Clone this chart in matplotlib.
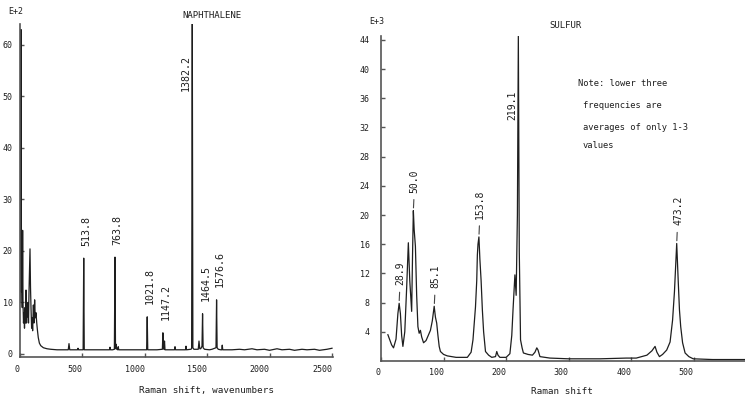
import matplotlib
matplotlib.use("Agg")
import matplotlib.pyplot as plt
import numpy as np

# ---------------- data: naphthalene (E+2 units) ----------------
naph_x = [4, 8, 10, 12, 14, 16, 18, 22, 25, 28, 32, 36, 40, 44, 48, 52, 56, 60, 63, 68,
          72, 76, 79, 84, 88, 92, 97, 101, 105, 111, 116, 121, 126, 132, 138, 143, 150,
          159, 170, 191, 220, 250, 300, 350, 390, 396, 402, 440, 464, 468, 472, 500,
          509, 513.8, 518, 530, 600, 650, 700, 720, 724, 728, 745, 759, 763.8, 768, 772,
          778, 786, 790, 794, 850, 900, 950, 1000, 1017, 1021.8, 1026, 1060, 1100, 1143,
          1147.2, 1152, 1156, 1160, 1164, 1200, 1240, 1244, 1248, 1290, 1328, 1332, 1336,
          1370, 1377, 1382.2, 1387, 1395, 1430, 1436, 1442, 1450, 1460, 1464.5, 1469,
          1480, 1520, 1540, 1572, 1576.6, 1581, 1590, 1610, 1618, 1622, 1626, 1660, 1700,
          1760, 1800, 1860, 1900, 1960, 2000, 2060, 2100, 2160, 2200, 2260, 2300, 2360,
          2400, 2460, 2500]
naph_y = [10, 30, 57, 63, 40, 12, 15, 9, 24, 10, 6, 8, 5, 9, 6, 12.4, 6, 9, 7.2, 10,
          6, 12, 15, 20.4, 13, 9, 5, 7, 4.5, 9.5, 6, 10.5, 7, 8, 6, 4.7, 3.2,
          2.1, 1.6, 1.2, 1.0, 0.9, 0.8, 0.8, 0.8, 2.0, 0.8, 0.8, 0.8, 1.1, 0.8, 0.8,
          0.8, 18.6, 0.8, 0.8, 0.8, 0.8, 0.8, 0.8, 1.3, 0.8, 0.8, 0.9, 18.8, 1.0, 1.9,
          0.9, 0.8, 1.4, 0.8, 0.8, 0.8, 0.8, 0.8, 0.8, 7.2, 0.8, 0.8, 0.8, 0.9,
          4.1, 1.0, 0.9, 2.5, 0.8, 0.8, 0.8, 1.4, 0.8, 0.8, 0.8, 1.5, 0.8,
          0.9, 1.0, 65, 1.2, 0.9, 0.9, 2.5, 1.0, 1.0, 1.5, 7.8, 1.2,
          0.9, 0.8, 0.9, 1.2, 10.5, 1.2, 0.9, 0.8, 0.8, 1.7, 0.8, 0.8, 0.8,
          0.9, 0.8, 1.0, 0.8, 0.9, 0.7, 1.0, 0.8, 0.9, 0.7, 0.9, 0.8, 0.9,
          0.7, 0.9, 1.1]
naph_peaks = [513.8, 763.8, 1021.8, 1147.2, 1464.5, 1576.6]
naph_peak_h = [18.6, 18.8, 7.2, 4.1, 7.8, 10.5]
naph_peak_lbl = ["513.8", "763.8", "1021.8", "1147.2", "1464.5", "1576.6"]
naph_top_peak = 1382.2
naph_top_lbl = "1382.2"
naph_xticks = [0, 500, 1000, 1500, 2000, 2500]
naph_yticks = [0, 10, 20, 30, 40, 50, 60]

# ---------------- data: sulfur (E+3 units) ----------------
sul_x = [11, 17, 20, 24, 27, 29, 31, 33, 35, 38, 41, 43.7, 46, 49, 50.5, 51.7, 53, 55,
         57, 59, 61, 63, 65, 68, 72, 76, 79, 82, 85, 87, 89, 91, 93, 95, 100, 106, 120,
         138, 144, 147, 151, 153, 154, 155, 156.5, 158, 160, 162, 164, 167, 172, 177,
         183, 185, 187, 190, 200, 206, 209, 211, 214, 216, 218, 219.5, 221, 223, 225.5,
         227.6, 235, 242, 246, 249, 251, 254, 270, 300, 350, 392, 408, 425, 433, 438,
         441, 445, 450, 456.6, 462, 466, 469, 472.6, 475, 477, 479, 482, 486, 492, 499,
         530, 600]
sul_y = [3.6, 2.2, 1.8, 3.0, 6.5, 7.9, 6.5, 3.5, 2.0, 4.0, 10, 16.2, 11, 6.8, 15, 20.6, 18, 15.7,
         9, 4.7, 3.8, 4.2, 3.3, 2.5, 2.8, 3.6, 4.2, 5.5, 7.5, 6.0, 5.2, 3.5, 2.0, 1.3, 0.9, 0.7, 0.5,
         0.5, 1.2, 2.9, 7.4, 11, 14.5, 16, 17.0, 14, 11, 7, 4, 1.3, 0.8, 0.5,
         0.6, 1.3, 0.8, 0.5, 0.5, 1.0, 3.5, 7, 11.8, 9, 20, 44.5, 15, 2.9, 1.8,
         1.1, 0.9, 0.8, 1.2, 1.8, 1.5, 0.6, 0.4, 0.3, 0.3, 0.4, 0.4, 0.8, 1.4, 2.0,
         1.2, 0.6, 0.9, 1.5, 2.6, 5.6, 9.5, 16.1, 11, 7, 4.7, 2.5, 1.1, 0.6, 0.3,
         0.2, 0.2]
sul_peaks = [28.9, 51.7, 85.1, 156.5, 472.6]
sul_peak_h = [7.9, 20.6, 7.5, 17.0, 16.1]
sul_peak_lbl = ["28.9", "50.0", "85.1", "153.8", "473.2"]
sul_top_peak = 219.5
sul_top_lbl = "219.1"
sul_xticks = [0, 100, 200, 300, 400, 500]
sul_yticks = [4, 8, 12, 16, 20, 24, 28, 32, 36, 40, 44]

note_lines = ["Note: lower three", "frequencies are", "averages of only 1-3", "values"]

# ---------------- style ----------------
W, H = 745, 401
FONT = "DejaVu Sans Mono"
INK = "#1e1e1e"
SPINE = "#555555"
plt.rcParams["font.family"] = FONT

fig = plt.figure(figsize=(W / 100, H / 100), dpi=100)
fig.patch.set_facecolor("white")


def px_axes(x0, x1, ytop, ybot):
    return fig.add_axes([x0 / W, 1 - ybot / H, (x1 - x0) / W, (ybot - ytop) / H])


def style(ax, ypad, xpad):
    for s in ["top", "right"]:
        ax.spines[s].set_visible(False)
    for s in ["left", "bottom"]:
        ax.spines[s].set_color(SPINE)
        ax.spines[s].set_linewidth(1.2)
    ax.tick_params(axis="both", direction="in", length=3, width=1.0, color=SPINE,
                   labelsize=6, labelcolor=INK)
    ax.tick_params(axis="y", pad=ypad)
    ax.tick_params(axis="x", pad=xpad)
    for lab in ax.get_xticklabels():
        lab.set_horizontalalignment("right")


# ---------------- left panel ----------------
axL = px_axes(19.5, 19.5 + 2510 * 0.125, 24.4, 357)
axL.set_xlim(0, 2510)
axL.set_ylim(-0.6, 64)
axL.plot(naph_x, naph_y, color=INK, lw=0.9, clip_on=True)
axL.set_xticks(naph_xticks)
axL.set_xticklabels([str(t) for t in naph_xticks])
axL.set_yticks(naph_yticks)
axL.set_yticklabels([str(t) for t in naph_yticks])
style(axL, ypad=5.0, xpad=6)
for x, h, lbl in zip(naph_peaks, naph_peak_h, naph_peak_lbl):
    axL.annotate(lbl, xy=(x, h), xytext=(2, 9), textcoords="offset points",
                 rotation=90, ha="center", va="bottom", fontsize=7.2, color=INK)
axL.annotate(naph_top_lbl, xy=(naph_top_peak, 51), xytext=(-5, 0), textcoords="offset points",
             rotation=90, ha="center", va="bottom", fontsize=7.2, color=INK)

# ---------------- right panel ----------------
x0R = 381
axR = px_axes(x0R, x0R + 600 * 0.6257, 36.2, 361)
axR.set_xlim(0, 600)
axR.set_ylim(0, 44.5)
axR.plot(sul_x, sul_y, color=INK, lw=0.9)
axR.set_xticks(sul_xticks)
axR.set_xticklabels([str(t) for t in sul_xticks])
axR.set_yticks(sul_yticks)
axR.set_yticklabels([str(t) for t in sul_yticks])
style(axR, ypad=8, xpad=5)
for x, h, lbl in zip(sul_peaks, sul_peak_h, sul_peak_lbl):
    axR.annotate(lbl, xy=(x, h), xytext=(1, 13), textcoords="offset points",
                 rotation=90, ha="center", va="bottom", fontsize=7, color=INK,
                 arrowprops=dict(arrowstyle="-", lw=0.8, color="#444444",
                                 shrinkA=3, shrinkB=2))
axR.annotate(sul_top_lbl, xy=(sul_top_peak, 33), xytext=(-4.5, 0), textcoords="offset points",
             rotation=90, ha="center", va="bottom", fontsize=7, color=INK)

# ---------------- texts ----------------
def ftext(x, y, s, size=6.5, ha="center"):
    fig.text(x / W, 1 - y / H, s, ha=ha, va="center", fontsize=size, color=INK)


ftext(16, 12, "E+2", 6)
ftext(212, 15, "NAPHTHALENE", 6.5)
ftext(377, 22, "E+3", 6)
ftext(565, 25, "SULFUR", 6.5)
ftext(206, 390, "Raman shift, wavenumbers", 6.7)
ftext(562, 392, "Raman shift", 6.7)
note_x = [578, 583, 583, 583]
note_y = [83, 106, 128, 146]
for nx, ny, s in zip(note_x, note_y, note_lines):
    ftext(nx, ny, s, 6.3, ha="left")

fig.savefig("out.png", dpi=100)
